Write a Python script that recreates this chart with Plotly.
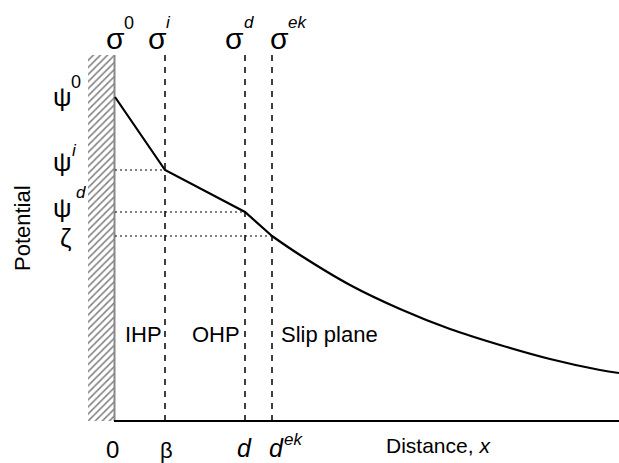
import plotly.graph_objects as go

# ---- data (x: distance from wall, y: potential; units match the drawing scale) ----
plane_names = ["0", "β", "d", "d_ek"]
plane_x = [0, 50, 130, 157]
plane_potential = [324, 251, 209, 185]          # psi0, psi_i, psi_d, zeta

diffuse_x = [157, 185, 235, 285, 335, 385, 435, 485, 504]
diffuse_y = [185, 166, 136, 112, 92, 76, 62, 51, 48]

region_labels = ["IHP", "OHP", "Slip plane"]

TOP = 367
WALL_TOP = 366
FONT = "Arial, Liberation Sans, sans-serif"

fig = go.Figure()

# hatched wall
fig.add_trace(go.Scatter(
    x=[-27, -1, -1, -27, -27], y=[0, 0, WALL_TOP, WALL_TOP, 0],
    fill="toself", mode="lines", line=dict(width=0, color="rgba(0,0,0,0)"),
    fillcolor="white",
    fillpattern=dict(shape="/", size=5, solidity=0.3, fgcolor="black", bgcolor="white"),
    hoverinfo="skip", showlegend=False))
# wall surface line
fig.add_trace(go.Scatter(x=[-0.5, -0.5], y=[0, WALL_TOP], mode="lines",
                         line=dict(color="#888", width=2), showlegend=False))
# horizontal axis
fig.add_trace(go.Scatter(x=[-1, 504], y=[0, 0], mode="lines",
                         line=dict(color="black", width=2), showlegend=False))

# dashed plane lines
for px in plane_x[1:]:
    fig.add_trace(go.Scatter(x=[px, px], y=[0, TOP], mode="lines",
                             line=dict(color="black", width=1.5, dash="6px,6px"),
                             showlegend=False))
# dotted guide lines
for px, py in zip(plane_x[1:], plane_potential[1:]):
    fig.add_trace(go.Scatter(x=[0, px], y=[py, py], mode="lines",
                             line=dict(color="black", width=1, dash="2px,3px"),
                             showlegend=False))

# potential curve: linear inside the Stern layer, smooth decay beyond the slip plane
fig.add_trace(go.Scatter(x=plane_x, y=plane_potential,
                         mode="lines", line=dict(color="black", width=2.2),
                         showlegend=False))
fig.add_trace(go.Scatter(x=diffuse_x, y=diffuse_y,
                         mode="lines", line=dict(color="black", width=2.2, shape="spline"),
                         showlegend=False))

ann = []
def txt(x, y, t, size, italic=False, angle=0):
    ann.append(dict(x=x, y=y, xref="x", yref="y", text=(f"<i>{t}</i>" if italic else t),
                    showarrow=False, textangle=angle,
                    font=dict(family=FONT, size=size, color="black"),
                    xanchor="center", yanchor="middle", borderpad=0))

# sigma labels
txt(0, 383, "σ", 30); txt(14, 398, "0", 18)
txt(42, 383, "σ", 30); txt(53, 399, "i", 17, True)
txt(119, 383, "σ", 30); txt(134, 399, "d", 17, True)
txt(164, 383, "σ", 30); txt(182, 399, "ek", 17, True)

# psi labels
txt(-53, 324, "ψ", 26); txt(-39, 339, "0", 18)
txt(-53, 259, "ψ", 26); txt(-41, 271, "i", 17, True)
txt(-53, 213, "ψ", 26); txt(-34, 229, "d", 17, True)
txt(-50, 183, "ζ", 26)

txt(-93, 193, "Potential", 22, angle=-90)

# region labels
for lx, lab in zip([28, 101, 214], region_labels):
    txt(lx, 87, lab, 22)

# bottom labels
txt(-3, -28, "0", 24)
txt(51, -29, "β", 22)
txt(129, -27, "d", 25, True)
txt(161, -27, "d", 25, True); txt(178, -18, "ek", 17, True)
txt(323, -24, "Distance, <i>x</i>", 21)

fig.update_layout(
    width=619, height=463, margin=dict(l=0, r=0, t=0, b=0),
    paper_bgcolor="white", plot_bgcolor="white",
    xaxis=dict(range=[-115, 504], visible=False, fixedrange=True),
    yaxis=dict(range=[-42, 421], visible=False, fixedrange=True),
    annotations=ann, showlegend=False)

fig.write_html("out.html", config={"displayModeBar": False},
               post_script="document.body.style.margin='0';")
